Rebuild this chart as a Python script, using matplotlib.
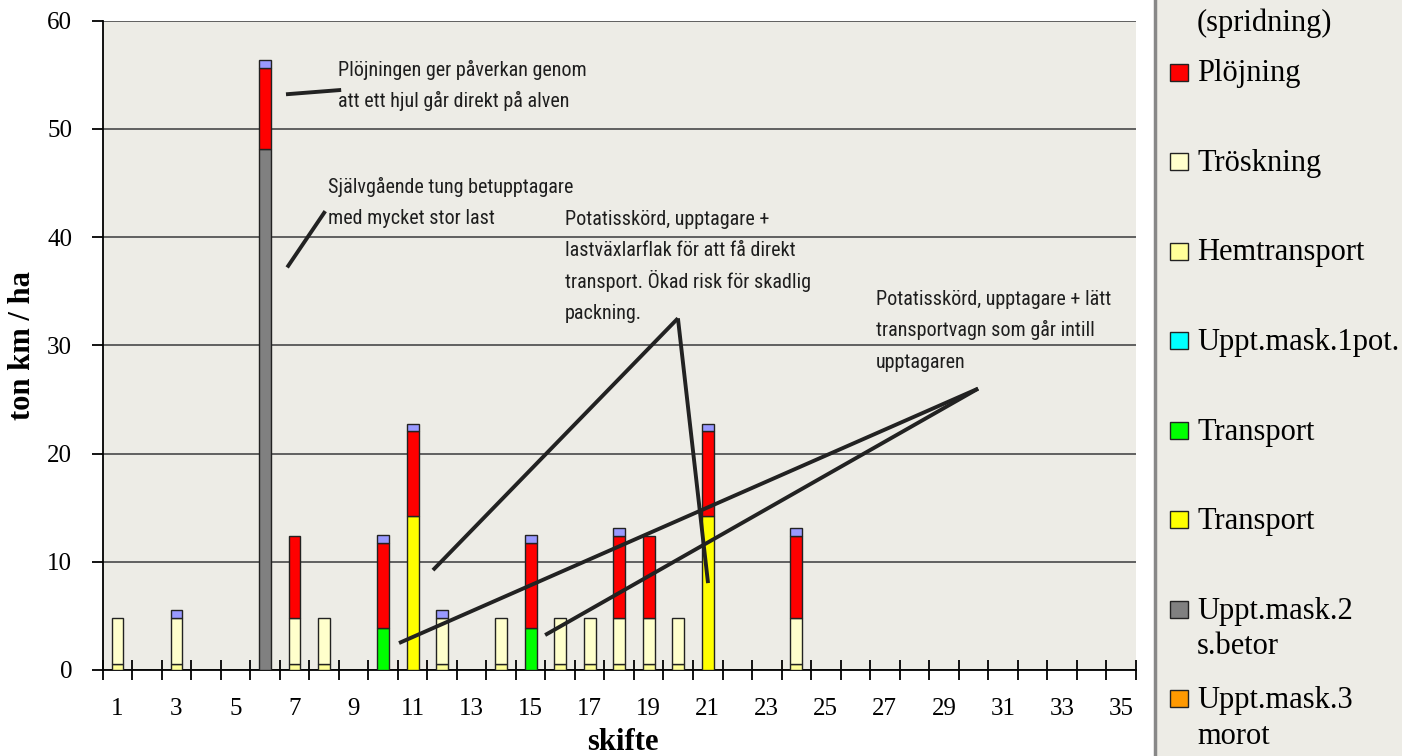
import numpy as np
import matplotlib
matplotlib.use('Agg')
import matplotlib.pyplot as plt
from matplotlib.patches import Rectangle
from matplotlib.lines import Line2D

# skifte 1..35, values in ton km / ha
skifte = np.arange(1, 36)

morot = [0] * 35
betor = [0, 0, 0, 0, 0,  48.1, 0, 0, 0, 0] + [0] * 25
transport_gul = [0] * 10 + [14.25] + [0] * 9 + [14.25] + [0] * 14
transport_gron = [0] * 9 + [3.9] + [0] * 4 + [3.9] + [0] * 20
pot = [0] * 35
hemtransport = [0.6, 0, 0.6, 0, 0,  0, 0.6, 0.6, 0, 0,  0, 0.6, 0, 0.6, 0,
                0.6, 0.6, 0.6, 0.6, 0.6,  0, 0, 0, 0.6, 0] + [0] * 10
troskning = [4.2, 0, 4.2, 0, 0,  0, 4.2, 4.2, 0, 0,  0, 4.2, 0, 4.2, 0,
             4.2, 4.2, 4.2, 4.2, 4.2,  0, 0, 0, 4.2, 0] + [0] * 10
plojning = [0, 0, 0, 0, 0,  7.55, 7.6, 0, 0, 7.85,  7.8, 0, 0, 0, 7.85,
            0, 0, 7.6, 7.6, 0,  7.8, 0, 0, 7.6, 0] + [0] * 10
spridning = [0, 0, 0.7, 0, 0,  0.75, 0, 0, 0, 0.7,  0.7, 0.7, 0, 0, 0.7,
             0, 0, 0.7, 0, 0,  0.7, 0, 0, 0.7, 0] + [0] * 10

# bottom -> top
stack = [(morot, '#FF9900'), (betor, '#808080'), (transport_gul, '#FFFF00'),
         (transport_gron, '#00FF00'), (pot, '#00FFFF'), (hemtransport, '#FFFF99'),
         (troskning, '#FFFFCC'), (plojning, '#FF0000'), (spridning, '#9999FF')]

legend_labels = ['Plöjning', 'Tröskning', 'Hemtransport', 'Uppt.mask.1pot.',
                 'Transport', 'Transport', 'Uppt.mask.2\ns.betor', 'Uppt.mask.3\nmorot']
legend_colors = ['#FF0000', '#FFFFCC', '#FFFF99', '#00FFFF',
                 '#00FF00', '#FFFF00', '#808080', '#FF9900']

# annotations: text, (x, y) of first baseline, line segments
notes = [
    ('Plöjningen ger påverkan genom\natt ett hjul går direkt på alven', (8.47, 54.9),
     [((6.71, 53.2), (8.58, 53.6))]),
    ('Självgående tung betupptagare\nmed mycket stor last', (8.13, 44.1),
     [((6.75, 37.2), (8.04, 42.4))]),
    ('Potatisskörd, upptagare +\nlastväxlarflak för att få direkt\n'
     'transport. Ökad risk för skadlig\npackning.', (16.17, 41.1),
     [((19.99, 32.5), (11.69, 9.23)), ((19.99, 32.5), (21.01, 8.03))]),
    ('Potatisskörd, upptagare + lätt\ntransportvagn som går intill\nupptagaren', (26.7, 33.7),
     [((30.16, 26.0), (10.54, 2.49)), ((30.16, 26.0), (15.49, 3.23))]),
]
note_step = 2.88  # line distance in data units

bg = '#EDECE6'
serif = 'Liberation Serif'
narrow = ['Roboto Condensed', 'DejaVu Sans']

fig = plt.figure(figsize=(14.02, 7.56), dpi=100)
fig.patch.set_facecolor('white')
W, H = 1402, 756
ax = fig.add_axes([102.7 / W, 1 - 670 / H, 1033 / W, 649.3 / H])
ax.set_facecolor(bg)

bottom = np.zeros(35)
for vals, col in stack:
    v = np.array(vals, dtype=float)
    m = v > 0
    if m.any():
        ax.bar(skifte[m], v[m], width=0.4, bottom=bottom[m], color=col,
               edgecolor='#222222', linewidth=1.0, zorder=3)
    bottom += v

ax.set_xlim(0.5, 35.5)
ax.set_ylim(0, 60)
ax.set_yticks(np.arange(0, 61, 10))
ax.yaxis.grid(True, color='#555555', linewidth=1.3, zorder=1)
ax.set_axisbelow(True)
for s in ['top', 'right']:
    ax.spines[s].set_visible(False)
ax.spines['left'].set_linewidth(1.3)
ax.spines['bottom'].set_linewidth(1.3)

ax.set_xticks(np.arange(0.5, 35.6, 1))
ax.set_xticklabels([])
ax.set_xticks(np.arange(1, 36, 2), minor=True)
ax.set_xticklabels([str(i) for i in range(1, 36, 2)], minor=True,
                   fontfamily=serif, fontsize=18)
ax.tick_params(axis='x', which='major', direction='inout', length=15, width=1.3)
ax.tick_params(axis='x', which='minor', length=0, pad=20)
ax.tick_params(axis='y', direction='out', length=8, width=1.3, pad=14)
for t in ax.get_yticklabels():
    t.set_fontfamily(serif)
    t.set_fontsize(18)

ax.set_xlabel('skifte', fontfamily=serif, fontsize=22, fontweight='bold')
ax.set_ylabel('ton km / ha', fontfamily=serif, fontsize=22, fontweight='bold')
ax.xaxis.set_label_coords(0.504, -0.09)
ax.yaxis.set_label_coords(-0.064, 0.5)

for txt, (tx, ty), segs in notes:
    for i, line in enumerate(txt.split('\n')):
        ax.text(tx, ty - i * note_step, line, family=narrow, fontsize=14.5,
                color='#1E1E1E', va='baseline', ha='left', zorder=5)
    for (x0, y0), (x1, y1) in segs:
        ax.plot([x0, x1], [y0, y1], color='#222222', linewidth=2.8,
                solid_capstyle='butt', zorder=6, clip_on=False)

# legend panel (top cut off as in the original)
fig.add_artist(Rectangle((1156 / W, 0), 1 - 1156 / W, 1, transform=fig.transFigure,
                         facecolor=bg, edgecolor='none', zorder=0))
fig.add_artist(Line2D([1155 / W, 1155 / W], [0, 1], transform=fig.transFigure,
                      color='#888888', linewidth=2.5))
fig.text(1197 / W, 1 - 31 / H, '(spridning)', family=serif, fontsize=22,
         va='baseline', ha='left')
for k, (lab, col) in enumerate(zip(legend_labels, legend_colors)):
    yc = 72 + 89.5 * k
    fig.add_artist(Rectangle((1170 / W, 1 - (yc + 8.5) / H), 18 / W, 17 / H,
                             transform=fig.transFigure, facecolor=col,
                             edgecolor='#222222', linewidth=1.0))
    for j, line in enumerate(lab.split('\n')):
        fig.text(1197 / W, 1 - (yc + 9.5 + 36 * j) / H, line, family=serif,
                 fontsize=22, va='baseline', ha='left')

fig.savefig('out.png', dpi=100)
